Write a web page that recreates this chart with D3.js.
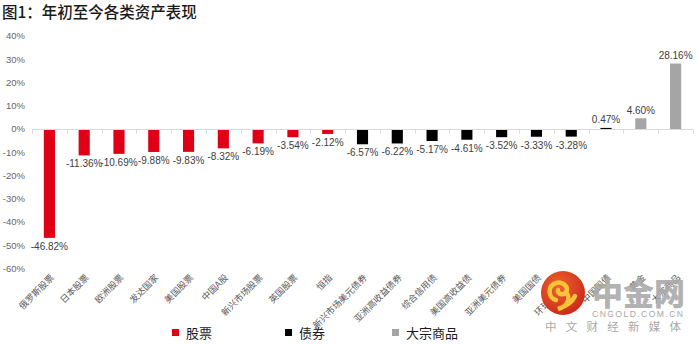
<!DOCTYPE html>
<html><head><meta charset="utf-8">
<script src="https://cdn.jsdelivr.net/npm/d3@7"></script>
<style>
body{margin:0;background:#fff;}
svg{display:block;}
</style></head>
<body>
<svg id="chart" width="698" height="345"></svg>
<script>
const categories = ["俄罗斯股票","日本股票","欧洲股票","发达国家","美国股票","中国A股","新兴市场股票","英国股票","恒指",
  "新兴市场美元债券","亚洲高收益债券","综合信用债","美国高收益债","亚洲美元债券","美国国债","环球高收益债","中国国债",
  "黄金","大宗商品"];
const values = [-46.82,-11.36,-10.69,-9.88,-9.83,-8.32,-6.19,-3.54,-2.12,
  -6.57,-6.22,-5.17,-4.61,-3.52,-3.33,-3.28,0.47,
  4.60,28.16];
const groups = ["股票","股票","股票","股票","股票","股票","股票","股票","股票",
  "债券","债券","债券","债券","债券","债券","债券","债券",
  "大宗商品","大宗商品"];
const legendNames = ["股票","债券","大宗商品"];
const legendColors = ["#E00016","#000000","#A5A5A5"];
const yTicks = [40,30,20,10,0,-10,-20,-30,-40,-50,-60];

const svg = d3.select("#chart");
const cjk = "'Noto Sans CJK SC','Noto Sans',sans-serif";
const num = "'Liberation Sans',Arial,sans-serif";

const color = d3.scaleOrdinal().domain(legendNames).range(legendColors);
const x = d3.scaleBand().domain(categories).range([32, 693]).paddingInner(0.68).paddingOuter(0.34);
const y = d3.scaleLinear().domain([-60, 40]).range([268.5, 36]);

// title
svg.append("text").attr("x", 2).attr("y", 18).attr("font-family", cjk)
  .attr("font-size", 15.5).attr("font-weight", 500).attr("fill", "#1a1a1a").text("图1：年初至今各类资产表现");

// y labels
svg.append("g").selectAll("text").data(yTicks).join("text")
  .attr("x", 25).attr("y", d => y(d)).attr("dy", "0.35em").attr("text-anchor", "end")
  .attr("font-family", num).attr("font-size", 9.5).attr("fill", "#666666")
  .text(d => d + "%");

// bars
svg.append("g").selectAll("rect").data(values).join("rect")
  .attr("x", (d, i) => x(categories[i]))
  .attr("width", x.bandwidth())
  .attr("y", d => y(Math.max(0, d)))
  .attr("height", d => Math.abs(y(d) - y(0)))
  .attr("fill", (d, i) => color(groups[i]));

// zero axis line with ticks between categories
const ax = svg.append("g").attr("stroke", "#D9D9D9").attr("stroke-width", 1);
ax.append("line").attr("x1", 32).attr("x2", 693).attr("y1", Math.round(y(0)) + 0.5).attr("y2", Math.round(y(0)) + 0.5);
ax.selectAll("line.t").data(d3.range(categories.length + 1)).join("line").attr("class", "t")
  .attr("x1", i => Math.round(32 + i * (661 / categories.length)) + 0.5)
  .attr("x2", i => Math.round(32 + i * (661 / categories.length)) + 0.5)
  .attr("y1", Math.round(y(0)) + 0.5).attr("y2", Math.round(y(0)) + 4.5);

// value labels
svg.append("g").selectAll("text").data(values).join("text")
  .attr("x", (d, i) => x(categories[i]) + x.bandwidth() / 2)
  .attr("y", d => d < 0 ? y(d) + 8.5 : y(d) - 8)
  .attr("dy", "0.35em").attr("text-anchor", "middle")
  .attr("font-family", num).attr("font-size", 10).attr("fill", "#404040")
  .text(d => d.toFixed(2) + "%");

// category labels rotated
svg.append("g").selectAll("text").data(categories).join("text")
  .attr("transform", d => `translate(${x(d) + x.bandwidth() / 2 + 3},${276}) rotate(-45)`)
  .attr("text-anchor", "end").attr("dy", "0.35em")
  .attr("font-family", cjk).attr("font-size", 9).attr("fill", "#595959")
  .text(d => d);

// legend
const lx = [172, 285, 392];
const lg = svg.append("g").selectAll("g").data(legendNames).join("g")
  .attr("transform", (d, i) => `translate(${lx[i]},333)`);
lg.append("rect").attr("x", 0).attr("y", -4).attr("width", 7).attr("height", 7).attr("fill", (d, i) => legendColors[i]);
lg.append("text").attr("x", 14).attr("y", 0).attr("dy", "0.35em")
  .attr("font-family", cjk).attr("font-size", 13).attr("fill", "#1a1a1a").text(d => d);

// watermark logo
const wm = svg.append("g");
const grad = svg.append("defs").append("radialGradient").attr("id", "lg1").attr("cx", "40%").attr("cy", "35%").attr("r", "70%");
grad.append("stop").attr("offset", "0%").attr("stop-color", "#F0652A");
grad.append("stop").attr("offset", "100%").attr("stop-color", "#C9271A");
wm.append("circle").attr("cx", 563).attr("cy", 293).attr("r", 22).attr("fill", "url(#lg1)");
wm.append("path").attr("d", "M556,300 C548,298 547,286 556,283 C563,281 569,287 566,292 C563,296 557,294 558,290 M566,292 C571,298 568,306 558,309 C566,306 572,303 575,296")
  .attr("fill", "none").attr("stroke", "#F6C33B").attr("stroke-width", 4.5).attr("stroke-linecap", "round");
wm.append("text").attr("x", 592).attr("y", 305).attr("font-family", cjk).attr("font-size", 31).attr("font-weight", 900)
  .attr("fill", "#A8A8A8").attr("fill-opacity", 0.9).text("中金网");
wm.append("text").attr("x", 592).attr("y", 317).attr("font-family", num).attr("font-size", 8.6)
  .attr("fill", "#A8A8A8").attr("textLength", 91).text("CNGOLD.COM.CN");
wm.append("text").attr("x", 545).attr("y", 331).attr("font-family", cjk).attr("font-size", 11.5)
  .attr("fill", "#A8A8A8").attr("textLength", 136).text("中文财经新媒体");
</script>
</body></html>
